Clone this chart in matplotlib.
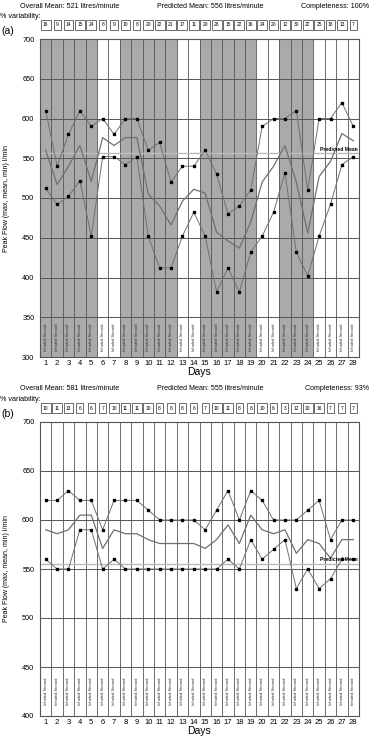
import numpy as np
import matplotlib
matplotlib.use("Agg")
import matplotlib.pyplot as plt
import matplotlib.transforms as mtransforms

plt.rcParams['font.family'] = ['Liberation Sans', 'DejaVu Sans']

days = np.arange(1, 29)

# panel (a)
var_a = [16, 9, 14, 15, 24, 8, 9, 10, 8, 20, 22, 21, 17, 11,
         20, 28, 15, 22, 16, 24, 20, 12, 30, 22, 25, 18, 13, 7]
max_a = [610, 540, 580, 610, 590, 600, 580, 600, 600, 560, 570, 520, 540, 540,
         560, 530, 480, 490, 510, 590, 600, 600, 610, 510, 600, 600, 620, 590]
mean_a = [560, 517, 540, 566, 521, 576, 566, 576, 576, 505, 490, 466, 496, 511,
          506, 457, 446, 437, 470, 520, 540, 566, 520, 456, 527, 546, 581, 572]
min_a = [512, 492, 502, 522, 452, 552, 552, 542, 552, 452, 412, 412, 452, 482,
         452, 382, 412, 382, 432, 452, 482, 532, 432, 402, 452, 492, 542, 552]
shaded_a = [1, 2, 3, 4, 5, 8, 9, 10, 11, 12, 15, 16, 17, 18, 19, 22, 23, 24]
pred_a = 556
head_a = ["Overall Mean: 521 litres/minute", "Predicted Mean: 556 litres/minute",
          "Completeness: 100%"]

# panel (b)
var_b = [10, 11, 13, 6, 6, 7, 10, 11, 11, 10, 8, 8, 8, 6,
         7, 10, 11, 8, 8, 10, 6, 3, 12, 10, 16, 7, 7, 7]
max_b = [620, 620, 630, 620, 620, 590, 620, 620, 620, 610, 600, 600, 600, 600,
         590, 610, 630, 600, 630, 620, 600, 600, 600, 610, 620, 580, 600, 600]
mean_b = [590, 586, 590, 605, 605, 571, 590, 586, 586, 580, 576, 576, 576, 576,
          571, 580, 595, 576, 605, 590, 586, 590, 566, 580, 576, 561, 580, 580]
min_b = [560, 550, 550, 590, 590, 550, 560, 550, 550, 550, 550, 550, 550, 550,
         550, 550, 560, 550, 580, 560, 570, 580, 530, 550, 530, 540, 560, 560]
shaded_b = []
pred_b = 555
head_b = ["Overall Mean: 581 litres/minute", "Predicted Mean: 555 litres/minute",
          "Completeness: 93%"]

W, H = 371, 738
fig = plt.figure(figsize=(W / 100, H / 100), dpi=100)

grid_c = "#555555"
line_c = "#707070"


def panel(top, bottom, ymin, ymax, vmax, vmean, vmin, var, shaded, pred, head, tag):
    ax = fig.add_axes([40 / W, 1 - bottom / H, 319 / W, (bottom - top) / H])
    ax.set_xlim(0.5, 28.5)
    ax.set_ylim(ymin, ymax)
    for d in shaded:
        ax.axvspan(d - 0.5, d + 0.5, color="#aaaaaa", lw=0, zorder=0)
    for i in range(29):
        ax.axvline(i + 0.5, color=grid_c, lw=0.6, zorder=1)
    for y in range(ymin + 50, ymax, 50):
        ax.axhline(y, color=grid_c, lw=0.7, zorder=1)
    ax.axhline(pred, color="#bbbbbb", lw=1.0, zorder=1)
    ax.text(28.4, pred + 2, "Predicted Mean", ha="right", va="bottom",
            fontsize=3.6, fontweight="bold", zorder=5)

    ax.plot(days, vmax, color=line_c, lw=0.7, marker="s", ms=2,
            mfc="black", mec="black", zorder=3)
    ax.plot(days, vmean, color=line_c, lw=0.9, zorder=3)
    ax.plot(days, vmin, color=line_c, lw=0.7, marker="s", ms=2,
            mfc="black", mec="black", zorder=3)

    # steroid labels in bottom band
    for d in days:
        ax.text(d, ymin + 25, "Inhaled Steroid", rotation=90, ha="center",
                va="center", fontsize=3.0, color="#333333", zorder=4)

    ax.set_xticks(days)
    ax.set_xticklabels([str(d) for d in days], fontsize=5.5)
    ax.set_yticks(range(ymin, ymax + 1, 50))
    ax.set_yticklabels([str(v) for v in range(ymin, ymax + 1, 50)], fontsize=5.3)
    ax.tick_params(length=0, pad=2)
    ax.tick_params(axis="y", pad=4)
    for s in ax.spines.values():
        s.set_color(grid_c)
        s.set_linewidth(0.8)
    ax.set_xlabel("Days", fontsize=7.5, labelpad=0)
    ax.set_ylabel("Peak Flow (max, mean, min) l/min", fontsize=5, labelpad=9)

    # variability boxes
    trans = mtransforms.blended_transform_factory(ax.transData, fig.transFigure)
    for d, v in zip(days, var):
        ax.text(d, 1 - (top - 14) / H, str(v), transform=trans, ha="center",
                va="center", fontsize=3.5,
                bbox=dict(boxstyle="square,pad=0.45", fc="white", ec="#333333", lw=0.5))

    fig.text(20 / W, 1 - (top - 33) / H, head[0], fontsize=5.1, va="center")
    fig.text(210 / W, 1 - (top - 33) / H, head[1], fontsize=5.1, va="center", ha="center")
    fig.text(369 / W, 1 - (top - 33) / H, head[2], fontsize=5.1, va="center", ha="right")
    fig.text(0.5 / W, 1 - (top - 22) / H, "% variability:", fontsize=5.2, va="center")
    fig.text(1 / W, 1 - (top - 8) / H, tag, fontsize=7.5, va="center")
    return ax


panel(39, 357, 300, 700, max_a, mean_a, min_a, var_a, shaded_a, pred_a, head_a, "(a)")
panel(422, 716, 400, 700, max_b, mean_b, min_b, var_b, shaded_b, pred_b, head_b, "(b)")

fig.savefig("out.png", dpi=100)
